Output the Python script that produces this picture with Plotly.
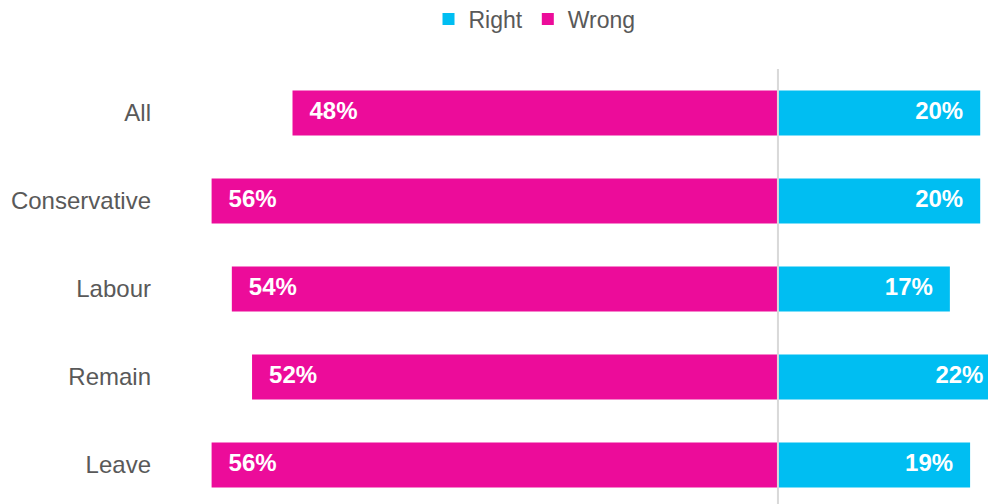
import plotly.graph_objects as go

categories = ["All", "Conservative", "Labour", "Remain", "Leave"]
right_vals = [20, 20, 17, 22, 19]
wrong_vals = [48, 56, 54, 52, 56]

CYAN = "#00BEF2"
MAGENTA = "#EC0C9A"
GREY = "#595959"
FONT = "Liberation Sans, Arial, sans-serif"

wrong_neg = [-v for v in wrong_vals]
right_txt = [f"{v}%" for v in right_vals]
wrong_txt = [f"{v}%" for v in wrong_vals]

fig = go.Figure()
fig.add_trace(go.Bar(
    name="Right", y=categories, x=right_vals, orientation="h",
    marker=dict(color=CYAN, line=dict(width=0)), width=0.51,
    hoverinfo="skip",
))
fig.add_trace(go.Bar(
    name="Wrong", y=categories, x=wrong_neg, orientation="h",
    marker=dict(color=MAGENTA, line=dict(width=0)), width=0.51,
    hoverinfo="skip",
))

label_font = dict(family=FONT, size=24, color="white", weight="bold")
# value labels: invisible markers give the text its offset from the bar end;
# clipping to the plot area keeps the label of the bar that runs off the edge
fig.add_trace(go.Scatter(
    y=categories, x=right_vals, mode="markers+text", text=right_txt,
    textposition="middle left", cliponaxis=True, showlegend=False,
    marker=dict(size=25.6, opacity=0), hoverinfo="skip", textfont=label_font,
))
fig.add_trace(go.Scatter(
    y=categories, x=wrong_neg, mode="markers+text", text=wrong_txt,
    textposition="middle right", cliponaxis=True, showlegend=False,
    marker=dict(size=25.6, opacity=0), hoverinfo="skip", textfont=label_font,
))

fig.add_shape(type="line", xref="x", yref="paper", x0=0, x1=0, y0=0, y1=1,
              line=dict(color="#D9D9D9", width=2), layer="above")

fig.update_layout(
    width=988, height=504,
    margin=dict(l=158, r=0, t=69, b=0, autoexpand=False),
    paper_bgcolor="white", plot_bgcolor="white",
    barmode="relative",
    font=dict(family=FONT, color=GREY),
    showlegend=True,
    legend=dict(orientation="h", xref="container", yref="container",
                x=0.541, xanchor="center", y=0.962, yanchor="middle",
                font=dict(size=23, color=GREY), traceorder="normal",
                itemwidth=30),
    xaxis=dict(range=[-61.3, 20.77], showgrid=False, zeroline=False,
               showticklabels=False, ticks="", fixedrange=True),
    yaxis=dict(categoryorder="array", categoryarray=categories,
               range=[4.443, -0.5], showgrid=False, zeroline=False,
               ticks="", tickfont=dict(size=24, color=GREY),
               automargin=False, ticklabelstandoff=6, fixedrange=True),
)

fig.write_html(
    "out.html",
    config={"displayModeBar": False},
    post_script="document.body.style.margin='0';document.body.style.overflow='hidden';",
)
